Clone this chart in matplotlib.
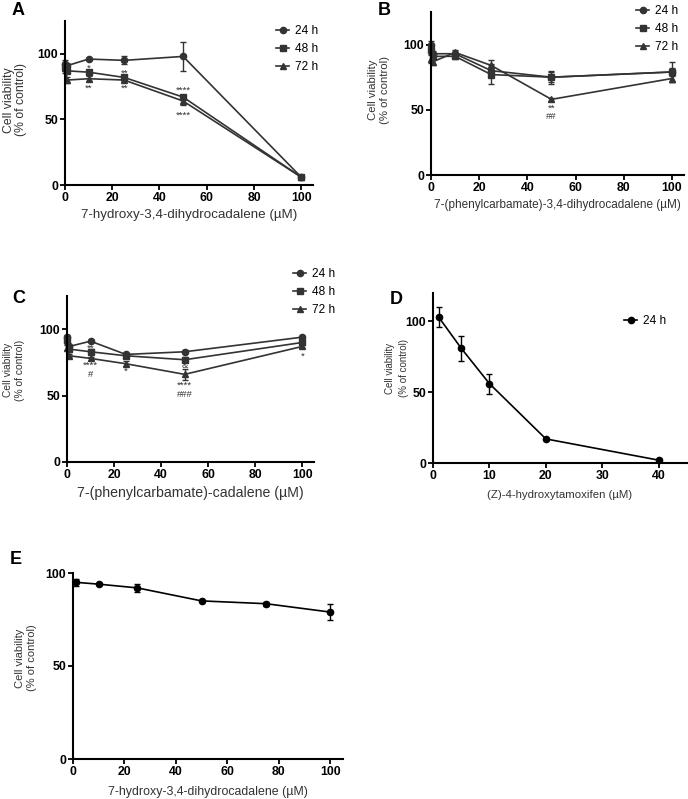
import numpy as np
import matplotlib
matplotlib.use("Agg")
import matplotlib.pyplot as plt
from matplotlib.lines import Line2D

plt.rcParams["font.family"] = ["Liberation Sans", "DejaVu Sans"]

# ---- data ----
conc = [0.1, 1, 10, 25, 50, 100]

a_24 = [92, 91, 96, 95, 98, 6]
a_24_err = [3, 2, 1, 3, 11, 1]
a_48 = [90, 87, 86, 82, 67, 6]
a_48_err = [3, 2, 2, 2, 1, 1]
a_72 = [89, 80, 81, 80, 64, 6]
a_72_err = [4, 2, 2, 1, 3, 1]

b_24 = [100, 93, 93, 80, 75, 79]
b_24_err = [3, 2, 2, 5, 5, 8]
b_48 = [96, 91, 91, 77, 75, 79]
b_48_err = [3, 2, 2, 7, 4, 3]
b_72 = [89, 87, 94, 84, 58, 74]
b_72_err = [3, 3, 2, 4, 1, 3]

c_24 = [94, 87, 91, 81, 83, 94]
c_24_err = [2, 1, 1, 1, 1, 1]
c_48 = [92, 85, 83, 80, 77, 90]
c_48_err = [3, 2, 2, 1, 2, 2]
c_72 = [86, 80, 78, 74, 66, 87]
c_72_err = [2, 1, 1, 2, 4, 1]

d_conc = [1, 5, 10, 20, 40]
d_24 = [103, 81, 56, 17, 2]
d_24_err = [7, 9, 7, 1, 1]

e_conc = [1, 10, 25, 50, 75, 100]
e_24 = [95, 94, 92, 85, 83.5, 79]
e_24_err = [2, 0.6, 2, 0.6, 1, 4.5]

# significance marks: (x, y, text)
a_marks = [(10, 89, "*"), (25, 85, "**"), (10, 74, "**"), (25, 74, "**"),
           (50, 72, "****"), (50, 53, "****")]
b_marks = [(50, 48, "**\n##")]
c_marks = [(10, 86, "**"), (10, 73, "****"), (10, 66, "#"), (25, 68, "*"),
           (50, 73, "&"), (50, 58, "****"), (50, 51, "###"), (100, 80, "*")]

W, H = 688, 799
fig = plt.figure(figsize=(W / 100, H / 100), dpi=100)


def px_axes(left, top, right, bottom):
    return fig.add_axes([left / W, 1 - bottom / H, (right - left) / W, (bottom - top) / H])


def style(ax, xlim, ylim, xticks, xlabel, xl_size, yl_size, yl_x, yl_y, xl_pad, yl_ls):
    ax.set_xlim(*xlim)
    ax.set_ylim(*ylim)
    ax.set_xticks(xticks)
    ax.set_yticks([0, 50, 100])
    for s in ["top", "right"]:
        ax.spines[s].set_visible(False)
    for s in ["left", "bottom"]:
        ax.spines[s].set_linewidth(1.5)
    ax.tick_params(width=1.3, length=3.5, labelsize=8.8, pad=1.5)
    for lab in ax.get_xticklabels() + ax.get_yticklabels():
        lab.set_fontweight("bold")
    ax.set_xlabel(xlabel, fontsize=xl_size, color="#333333", labelpad=xl_pad)
    ax.set_ylabel("Cell viability\n(% of control)", fontsize=yl_size,
                  color="#333333", va="center", linespacing=yl_ls)
    # label centre given in figure pixels
    bb = ax.get_position()
    fx = (yl_x / W - bb.x0) / bb.width
    fy = ((1 - yl_y / H) - bb.y0) / bb.height
    ax.yaxis.set_label_coords(fx, fy)


def series(ax, x, y, err, marker, color, label):
    ax.errorbar(x, y, yerr=err, marker=marker, color=color, ms=4.5,
                lw=1.2, capsize=2.5, elinewidth=1.0, capthick=1.0,
                label=label, clip_on=False)


def legend(ax, fx, fy, items, color):
    handles = [Line2D([], [], color=color, marker=m, ms=4.5, lw=1.2)
               for m in items]
    labels = ["24 h", "48 h", "72 h"][:len(items)]
    ax.legend(handles, labels, loc="upper left",
              bbox_to_anchor=(fx / W, 1 - fy / H),
              bbox_transform=fig.transFigure, frameon=False, fontsize=8.6,
              handlelength=1.1, handletextpad=0.5, labelspacing=0.5,
              borderpad=0, borderaxespad=0)


def marks(ax, items):
    for x, y, t in items:
        ax.text(x, y, t, ha="center", va="center", fontsize=6.8,
                color="#333333", linespacing=0.95)


grey = "#333333"

# A
axA = px_axes(65, 21, 313, 185)
series(axA, conc, a_24, a_24_err, "o", grey, "24 h")
series(axA, conc, a_48, a_48_err, "s", grey, "48 h")
series(axA, conc, a_72, a_72_err, "^", grey, "72 h")
style(axA, (0, 105), (0, 125), range(0, 101, 20),
      "7-hydroxy-3,4-dihydrocadalene (\u00b5M)", 9.6, 8.8, 15, 100, 3.5, 1.1)
marks(axA, a_marks)
legend(axA, 276, 25, "os^", grey)

# B
axB = px_axes(431, 12, 684, 175)
series(axB, conc, b_24, b_24_err, "o", grey, "24 h")
series(axB, conc, b_48, b_48_err, "s", grey, "48 h")
series(axB, conc, b_72, b_72_err, "^", grey, "72 h")
style(axB, (0, 105), (0, 125), range(0, 101, 20),
      "7-(phenylcarbamate)-3,4-dihydrocadalene (\u00b5M)", 8.5, 8.2, 379, 90, 3.5, 1.2)
marks(axB, b_marks)
legend(axB, 636, 5, "os^", grey)

# C
axC = px_axes(67, 296, 314, 462)
series(axC, conc, c_24, c_24_err, "o", grey, "24 h")
series(axC, conc, c_48, c_48_err, "s", grey, "48 h")
series(axC, conc, c_72, c_72_err, "^", grey, "72 h")
style(axC, (0, 105), (0, 125), range(0, 101, 20),
      "7-(phenylcarbamate)-cadalene (\u00b5M)", 10.2, 7.4, 14, 370, 4, 1.3)
marks(axC, c_marks)
legend(axC, 293, 268, "os^", grey)

# D
axD = px_axes(433, 293, 687, 463)
series(axD, d_conc, d_24, d_24_err, "o", "black", "24 h")
style(axD, (0, 45), (0, 120), range(0, 41, 10),
      "(Z)-4-hydroxytamoxifen (\u00b5M)", 8.2, 7.0, 397, 368, 6, 1.4)
legend(axD, 624, 315, "o", "black")

# E
axE = px_axes(73, 573, 343, 759)
series(axE, e_conc, e_24, e_24_err, "o", "black", "24 h")
style(axE, (0, 105), (0, 100), range(0, 101, 20),
      "7-hydroxy-3,4-dihydrocadalene (\u00b5M)", 8.9, 8.0, 26, 658, 6, 1.35)

# panel letters
for x, y, t in [(12, 2, "A"), (378, 2, "B"), (12, 290, "C"), (390, 291, "D"), (10, 551, "E")]:
    fig.text(x / W, 1 - y / H, t, fontsize=13, fontweight="bold", va="top", ha="left")

fig.savefig("out.png", dpi=100)
